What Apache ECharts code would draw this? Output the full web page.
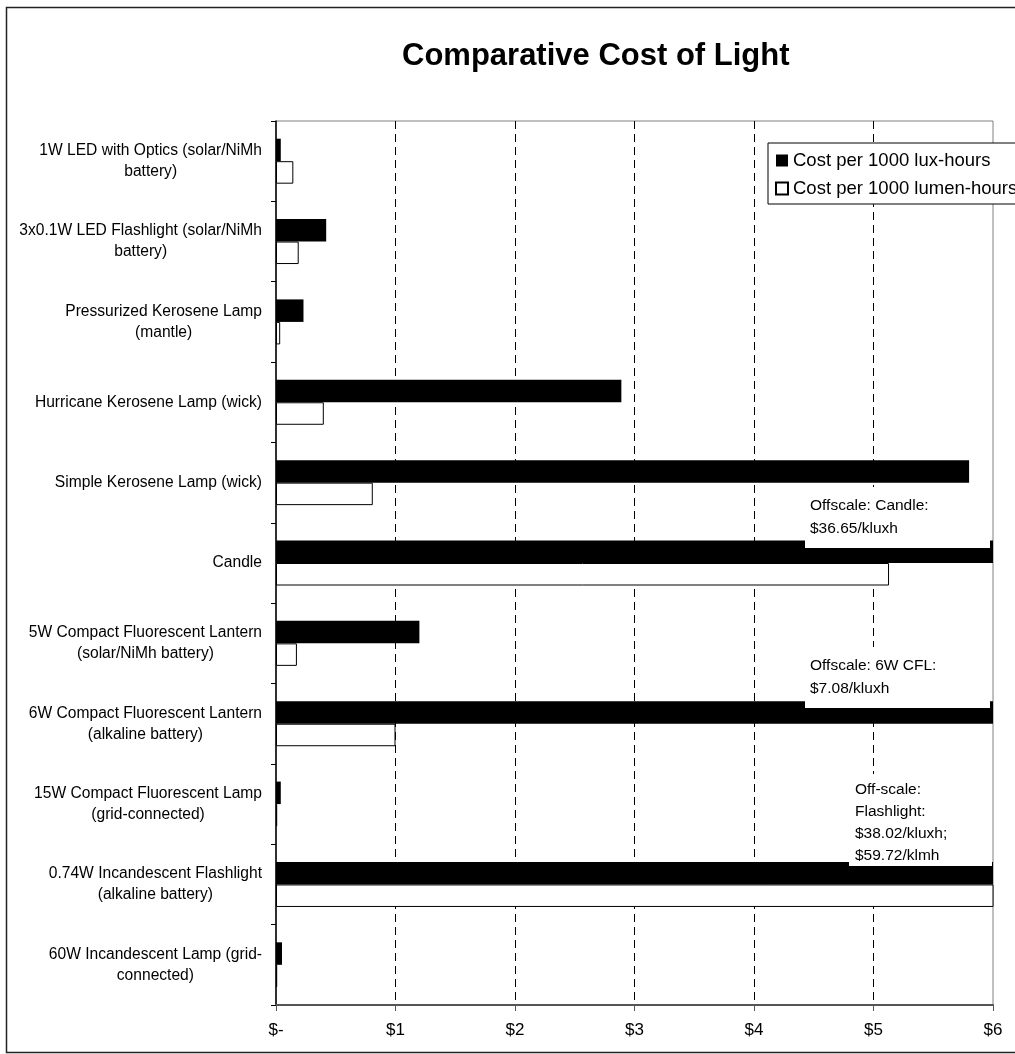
<!DOCTYPE html>
<html><head><meta charset="utf-8">
<script src="https://cdn.jsdelivr.net/npm/echarts@6/dist/echarts.min.js"></script>
<style>html,body{margin:0;padding:0;background:#fff}#c{width:1015px;height:1054px}</style>
</head><body><div id="c"></div>
<script>
const categories = [
  '1W LED with Optics (solar/NiMh\nbattery)',
  '3x0.1W LED Flashlight (solar/NiMh\nbattery)',
  'Pressurized Kerosene Lamp\n(mantle)',
  'Hurricane Kerosene Lamp (wick)',
  'Simple Kerosene Lamp (wick)',
  'Candle',
  '5W Compact Fluorescent Lantern\n(solar/NiMh battery)',
  '6W Compact Fluorescent Lantern\n(alkaline battery)',
  '15W Compact Fluorescent Lamp\n(grid-connected)',
  '0.74W Incandescent Flashlight\n(alkaline battery)',
  '60W Incandescent Lamp (grid-\nconnected)'
];
const luxCost   = [0.04, 0.42, 0.23, 2.89, 5.80, 36.65, 1.20, 7.08, 0.04, 38.02, 0.05];
const lumenCost = [0.145, 0.19, 0.035, 0.40, 0.81, 5.13, 0.175, 1.00, 0.01, 59.72, 0.01];
const seriesNames = ['Cost per 1000 lux-hours', 'Cost per 1000 lumen-hours'];
const xTickLabels = ['$-', '$1', '$2', '$3', '$4', '$5', '$6'];
const notes = [
  'Offscale: Candle:\n$36.65/kluxh',
  'Offscale: 6W CFL:\n$7.08/kluxh',
  'Off-scale:\nFlashlight:\n$38.02/kluxh;\n$59.72/klmh'
];

const FF = '"Liberation Sans", Arial, sans-serif';
const chart = echarts.init(document.getElementById('c'), null, {renderer: 'canvas'});
chart.setOption({
  animation: false,
  backgroundColor: '#fff',
  textStyle: {fontFamily: FF},
  title: {
    text: 'Comparative Cost of Light',
    left: 397, top: 36,
    textStyle: {fontFamily: FF, fontSize: 31, fontWeight: 'bold', color: '#000'}
  },
  legend: {
    orient: 'vertical',
    left: 768, top: 143,
    data: seriesNames,
    icon: 'rect',
    itemWidth: 12, itemHeight: 12, itemGap: 9,
    padding: [8, 60, 6, 7],
    backgroundColor: '#fff',
    borderColor: '#000', borderWidth: 1,
    textStyle: {fontFamily: FF, fontSize: 18.5, color: '#000'},
    z: 20
  },
  grid: {
    left: 276, right: 22, top: 121, bottom: 49,
    show: true, borderColor: '#808080', borderWidth: 1,
    containLabel: false
  },
  xAxis: {
    type: 'value', min: 0, max: 6, interval: 1,
    axisLine: {show: true, lineStyle: {color: '#555', width: 2}},
    axisTick: {show: true, length: 6, lineStyle: {color: '#555', width: 1}},
    axisLabel: {
      margin: 17, fontSize: 17, color: '#000', fontFamily: FF,
      formatter: (v) => xTickLabels[Math.round(v)]
    },
    splitLine: {show: true, showMinLine: false, showMaxLine: false,
      lineStyle: {type: [8, 5], color: '#000', width: 1}}
  },
  yAxis: {
    type: 'category', inverse: true, data: categories,
    axisLine: {show: true, lineStyle: {color: '#000', width: 1.5}},
    axisTick: {show: true, length: 5, lineStyle: {color: '#000', width: 1}},
    axisLabel: {
      margin: 14, color: '#000', fontSize: 15.6, fontFamily: FF,
      formatter: (v) => v.split('\n').map(l => '{c|' + l + '}').join('\n'),
      rich: {c: {align: 'center', fontSize: 15.6, lineHeight: 21, fontFamily: FF, color: '#000'}}
    },
    splitLine: {show: false}
  },
  series: [
    {
      name: seriesNames[0], type: 'bar', data: luxCost,
      barWidth: 22.5, barGap: '0%', clip: true,
      itemStyle: {color: '#000', borderColor: '#000', borderWidth: 0}
    },
    {
      name: seriesNames[1], type: 'bar', data: lumenCost,
      barWidth: 22.5, barGap: '0%', clip: true,
      itemStyle: {color: '#fff', borderColor: '#000', borderWidth: 1}
    }
  ],
  graphic: [
    {type: 'rect', z: 30, silent: true, shape: {x: 805, y: 487, width: 185, height: 61}, style: {fill: '#fff'}},
    {type: 'text', z: 31, silent: true, x: 810, y: 494,
      style: {text: notes[0], font: '15.5px ' + FF, lineHeight: 23, fill: '#000', verticalAlign: 'top', align: 'left'}},
    {type: 'rect', z: 30, silent: true, shape: {x: 805, y: 647, width: 185, height: 61}, style: {fill: '#fff'}},
    {type: 'text', z: 31, silent: true, x: 810, y: 654,
      style: {text: notes[1], font: '15.5px ' + FF, lineHeight: 23, fill: '#000', verticalAlign: 'top', align: 'left'}},
    {type: 'rect', z: 30, silent: true, shape: {x: 849, y: 774, width: 143, height: 92}, style: {fill: '#fff'}},
    {type: 'text', z: 31, silent: true, x: 855, y: 779,
      style: {text: notes[2], font: '15.5px ' + FF, lineHeight: 22, fill: '#000', verticalAlign: 'top', align: 'left'}},
    {type: 'rect', z: 40, silent: true, shape: {x: 6.5, y: 7.5, width: 1100, height: 1045},
      style: {fill: 'none', stroke: '#222', lineWidth: 1.5}}
  ]
});
</script>
</body></html>
